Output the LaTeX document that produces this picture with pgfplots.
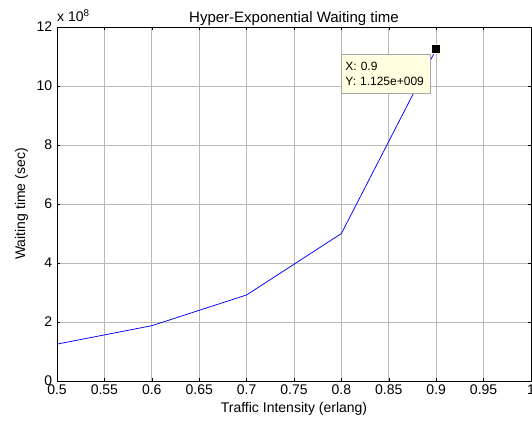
\documentclass[border=0pt]{standalone}
\usepackage{pgfplots}
\pgfplotsset{compat=1.18}
\usepackage{fontspec}
\setmainfont{Liberation Sans}
\definecolor{tipfill}{RGB}{255,255,225}
\begin{document}
\fontsize{14}{16}\selectfont
\begin{tikzpicture}
\begin{axis}[
  at={(0,0)}, anchor=south west,
  scale only axis, width=474pt, height=354pt,
  xmin=0.5, xmax=1, ymin=0, ymax=12,
  xtick={0.5,0.55,...,1.0},
  xticklabels={0.5,0.55,0.6,0.65,0.7,0.75,0.8,0.85,0.9,0.95,1},
  ytick={0,2,...,12},
  tick align=inside, major tick length=3pt,
  tick style={black, line width=0.6pt},
  axis line style={black, line width=0.9pt},
  grid=major,
  major grid style={gray!55, line width=0.7pt},
  scaled ticks=false,
  /pgf/number format/assume math mode=true,
  ticklabel style={font=\fontsize{14}{16}\selectfont},
  xticklabel style={yshift=1pt},
  title={Hyper-Exponential Waiting time},
  title style={at={(0.5,1)}, anchor=south, yshift=-5pt, font=\fontsize{15}{17}\selectfont, inner sep=0pt},
  xlabel={Traffic Intensity (erlang)},
  ylabel={Waiting time (sec)},
  xlabel style={font=\fontsize{14}{16}\selectfont, yshift=2pt},
  ylabel style={font=\fontsize{14}{16}\selectfont, yshift=-1pt},
  clip=false,
]
\addplot[blue, line width=0.75pt] coordinates {
  (0.5,1.25) (0.6,1.875) (0.7,2.9167) (0.8,5.0) (0.9,11.25)
};
\addplot[only marks, mark=square*, mark size=4.5pt, mark options={fill=black, draw=tipfill, line width=0.8pt}] coordinates {(0.9,11.25)};
\node[anchor=north east, fill=tipfill, draw=gray!70, line width=0.5pt,
      minimum width=89pt, minimum height=39pt, align=left, inner sep=4pt,
      font=\fontsize{12}{15}\selectfont, text width=80pt]
  at ([xshift=-6pt,yshift=-5pt]axis cs:0.9,11.25) {X: 0.9\\Y: 1.125e+009};
\node[anchor=south west, inner sep=0pt, font=\fontsize{14}{16}\selectfont] at (rel axis cs:0,1) [yshift=5pt]{x 10\textsuperscript{8}};
\end{axis}
\pgfresetboundingbox
\useasboundingbox (-57pt,-40pt) rectangle (475pt,381pt);
\end{tikzpicture}
\end{document}
